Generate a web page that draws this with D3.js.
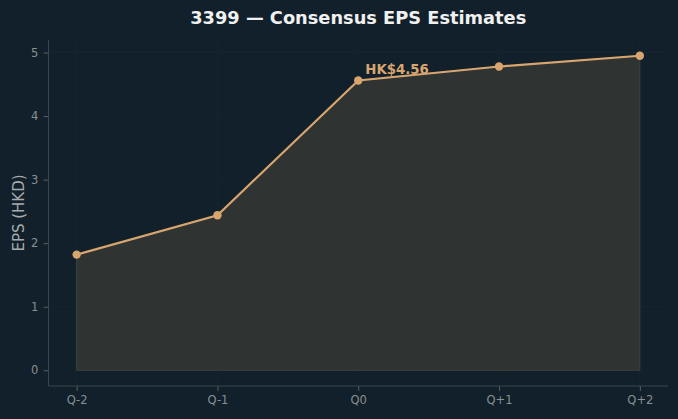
<!DOCTYPE html>
<html>
<head>
<meta charset="utf-8">
<script src="https://cdn.jsdelivr.net/npm/d3@7"></script>
<style>
  body { margin: 0; background: #11202a; }
  svg { display: block; font-family: 'DejaVu Sans', sans-serif; }
</style>
</head>
<body>
<svg width="678" height="419"></svg>
<script>
const quarters = ['Q-2', 'Q-1', 'Q0', 'Q+1', 'Q+2'];
const eps = [1.82, 2.44, 4.56, 4.78, 4.95];
const yTicks = [0, 1, 2, 3, 4, 5];
const highlight = 2; // index of annotated point

const svg = d3.select('svg');
const width = +svg.attr('width');
const height = +svg.attr('height');

const margin = { top: 40, right: 10, bottom: 33, left: 48.5 };
const innerWidth = width - margin.left - margin.right;
const innerHeight = height - margin.top - margin.bottom;

const lineColor = '#d9a56e';

svg.append('rect').attr('width', width).attr('height', height).attr('fill', '#11202a');

const g = svg.append('g')
    .attr('transform', `translate(${margin.left},${margin.top})`);

const x = d3.scaleLinear()
    .domain([-0.2, quarters.length - 1 + 0.2])
    .range([0, innerWidth]);

const yMax = d3.max(eps);
const y = d3.scaleLinear()
    .domain([-0.05 * yMax, yMax * 1.05])
    .range([innerHeight, 0]);

// grid
g.append('g').selectAll('line').data(yTicks).enter()
    .append('line')
    .attr('x1', 0).attr('x2', innerWidth)
    .attr('y1', d => y(d)).attr('y2', d => y(d))
    .attr('stroke', '#17272f').attr('stroke-width', 0.8);
g.append('g').selectAll('line').data(quarters).enter()
    .append('line')
    .attr('x1', (d, i) => x(i)).attr('x2', (d, i) => x(i))
    .attr('y1', 0).attr('y2', innerHeight)
    .attr('stroke', '#17272f').attr('stroke-width', 0.8);

// area
const area = d3.area()
    .x((d, i) => x(i))
    .y0(y(0))
    .y1(d => y(d));
g.append('path')
    .datum(eps)
    .attr('d', area)
    .attr('fill', '#2f3433')
    .attr('stroke', '#3e4240')
    .attr('stroke-width', 1);

// line
const line = d3.line()
    .x((d, i) => x(i))
    .y(d => y(d));
g.append('path')
    .datum(eps)
    .attr('d', line)
    .attr('fill', 'none')
    .attr('stroke', lineColor)
    .attr('stroke-width', 2.2);

g.selectAll('circle').data(eps).enter()
    .append('circle')
    .attr('cx', (d, i) => x(i))
    .attr('cy', d => y(d))
    .attr('r', 4.2)
    .attr('fill', lineColor);

// annotation
g.append('text')
    .attr('x', x(highlight) + 7)
    .attr('y', y(eps[highlight]) - 7)
    .attr('fill', lineColor)
    .attr('font-size', 13.3)
    .attr('font-weight', 'bold')
    .text('HK$' + eps[highlight].toFixed(2));

// axes
const axisX = d3.axisBottom(x)
    .tickValues(d3.range(quarters.length))
    .tickFormat(i => quarters[i])
    .tickSize(4.9)
    .tickPadding(4.9);
const axisY = d3.axisLeft(y)
    .tickValues(yTicks)
    .tickFormat(d3.format('d'))
    .tickSize(4.9)
    .tickPadding(5.4);

const xAxisG = g.append('g')
    .attr('transform', `translate(0,${innerHeight})`)
    .call(axisX);
const yAxisG = g.append('g').call(axisY);

[xAxisG, yAxisG].forEach(a => {
    a.attr('font-size', 11.5).attr('font-family', 'DejaVu Sans, sans-serif');
    a.select('.domain').remove();
    a.selectAll('.tick line').attr('stroke', '#6a6f72').attr('stroke-width', 0.8);
    a.selectAll('.tick text').attr('fill', '#8a8f92');
});

// spines
g.append('line')
    .attr('x1', 0).attr('x2', 0).attr('y1', 0).attr('y2', innerHeight)
    .attr('stroke', '#3d4549').attr('stroke-width', 1);
g.append('line')
    .attr('x1', 0).attr('x2', innerWidth).attr('y1', innerHeight).attr('y2', innerHeight)
    .attr('stroke', '#3d4549').attr('stroke-width', 1);

// y label
svg.append('text')
    .attr('transform', `translate(24,${margin.top + innerHeight / 2}) rotate(-90)`)
    .attr('text-anchor', 'middle')
    .attr('fill', '#a7abad')
    .attr('font-size', 15)
    .text('EPS (HKD)');

// title
svg.append('text')
    .attr('x', margin.left + innerWidth / 2)
    .attr('y', 24)
    .attr('text-anchor', 'middle')
    .attr('fill', '#f0f0f0')
    .attr('font-size', 17.8)
    .attr('font-weight', 'bold')
    .text('3399 — Consensus EPS Estimates');
</script>
</body>
</html>
